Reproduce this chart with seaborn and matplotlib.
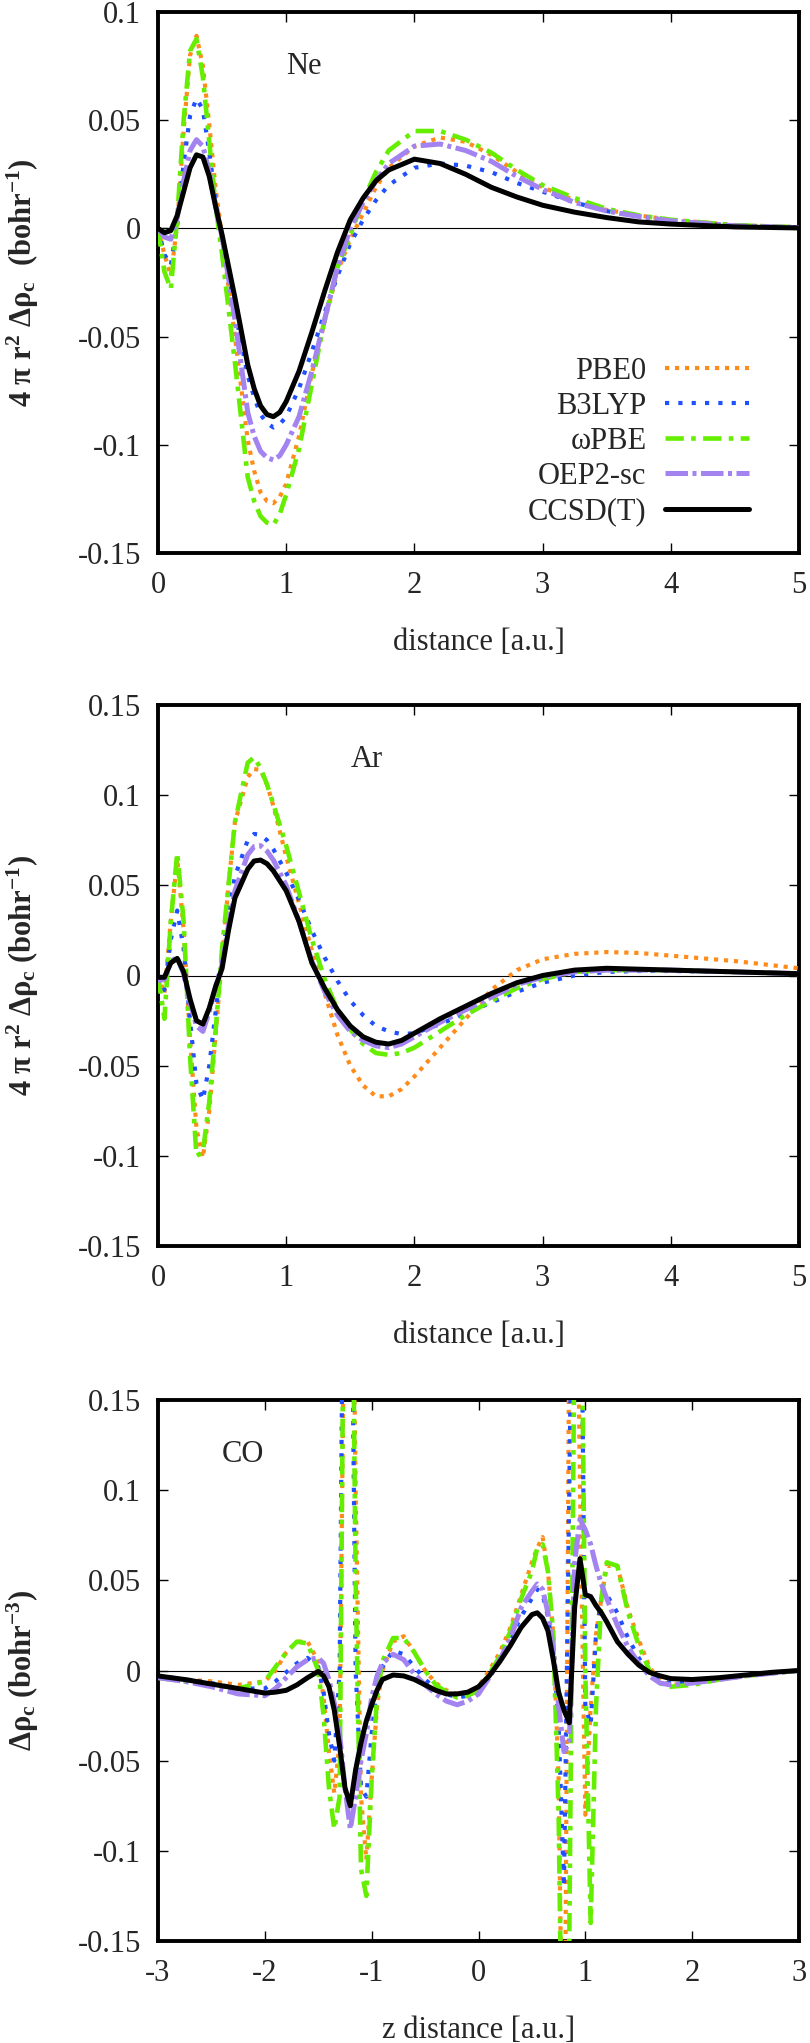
import numpy as np
import pandas as pd
import matplotlib
matplotlib.use("Agg")
import matplotlib.pyplot as plt
import seaborn as sns

# ---- data ----
methods = ["PBE0", "B3LYP", "ωPBE", "OEP2-sc", "CCSD(T)"]

ne_x = [0, 0.05, 0.1, 0.15, 0.2, 0.25, 0.3, 0.35, 0.4, 0.45, 0.5, 0.6, 0.7, 0.75, 0.8, 0.85, 0.9,
        0.95, 1.0, 1.1, 1.2, 1.3, 1.4, 1.5, 1.6, 1.7, 1.8, 2.0, 2.2, 2.4, 2.6, 2.8, 3.0,
        3.25, 3.5, 3.75, 4.0, 4.5, 5.0]
ne_pbe0 = [0, -0.012, -0.022, 0.002, 0.045, 0.080, 0.089, 0.075, 0.048, 0.018,
           -0.004, -0.050, -0.098, -0.112, -0.122, -0.126, -0.127, -0.124, -0.118, -0.096, -0.067, -0.043, -0.020,
           -0.005, 0.007, 0.019, 0.028, 0.038, 0.042, 0.040, 0.034, 0.026, 0.019,
           0.013, 0.0085, 0.006, 0.004, 0.0015, 0.0005]
ne_b3lyp = [0, -0.012, -0.017, 0.002, 0.030, 0.052, 0.060, 0.055, 0.035, 0.013,
            -0.005, -0.038, -0.068, -0.078, -0.086, -0.090, -0.092, -0.0905, -0.087, -0.074, -0.057, -0.039, -0.022,
            -0.007, 0.004, 0.013, 0.020, 0.028, 0.030, 0.029, 0.026, 0.021, 0.017,
            0.012, 0.008, 0.0055, 0.0035, 0.0012, 0.0004]
ne_wpbe = [0, -0.020, -0.028, 0.005, 0.050, 0.082, 0.0875, 0.070, 0.040, 0.010,
           -0.012, -0.062, -0.115, -0.126, -0.133, -0.136, -0.137, -0.132, -0.123, -0.102, -0.072, -0.042, -0.018,
           -0.003, 0.013, 0.026, 0.036, 0.045, 0.045, 0.041, 0.035, 0.027, 0.020,
           0.014, 0.009, 0.006, 0.004, 0.0015, 0.0005]
ne_oep2 = [0, -0.004, -0.005, 0.005, 0.022, 0.036, 0.041, 0.038, 0.026, 0.010,
           -0.004, -0.042, -0.085, -0.096, -0.103, -0.106, -0.107, -0.105, -0.100, -0.087, -0.066, -0.042, -0.018,
           0.000, 0.012, 0.022, 0.030, 0.038, 0.039, 0.036, 0.031, 0.024, 0.018,
           0.012, 0.008, 0.0055, 0.0035, 0.0012, 0.0004]
ne_ccsdt = [0, -0.002, -0.001, 0.006, 0.017, 0.028, 0.034, 0.033, 0.024, 0.010,
            -0.003, -0.032, -0.063, -0.074, -0.082, -0.086, -0.087, -0.085, -0.080, -0.066, -0.048, -0.029, -0.011,
            0.004, 0.014, 0.022, 0.027, 0.032, 0.030, 0.025, 0.019, 0.0145, 0.0107,
            0.0075, 0.005, 0.003, 0.002, 0.0007, 0.0002]

ar_x = [0, 0.05, 0.1, 0.15, 0.2, 0.25, 0.3, 0.35, 0.4, 0.45, 0.5, 0.55, 0.6, 0.7, 0.75, 0.8, 0.85,
        0.9, 1.0, 1.1, 1.2, 1.3, 1.4, 1.5, 1.6, 1.7, 1.8, 1.9, 2.0, 2.2, 2.4, 2.6,
        2.8, 3.0, 3.25, 3.5, 3.75, 4.0, 4.5, 5.0]
ar_pbe0 = [0, -0.010, 0.030, 0.065, 0.025, -0.035, -0.085, -0.101, -0.075, -0.032,
           0.010, 0.050, 0.085, 0.110, 0.1145, 0.114, 0.106, 0.094, 0.066, 0.040, 0.014, -0.010,
           -0.033, -0.050, -0.061, -0.067, -0.067, -0.063, -0.056, -0.040, -0.024, -0.008,
           0.003, 0.009, 0.012, 0.013, 0.0125, 0.011, 0.008, 0.004]
ar_b3lyp = [0, -0.008, 0.020, 0.036, 0.015, -0.025, -0.060, -0.069, -0.050, -0.020,
            0.010, 0.035, 0.055, 0.075, 0.0785, 0.078, 0.075, 0.070, 0.057, 0.042, 0.025, 0.010,
            -0.003, -0.014, -0.022, -0.028, -0.031, -0.0325, -0.032, -0.027, -0.021, -0.015,
            -0.009, -0.004, 0.000, 0.002, 0.0025, 0.0025, 0.002, 0.001]
ar_wpbe = [0, -0.024, 0.030, 0.068, 0.030, -0.045, -0.100, -0.098, -0.070, -0.030,
           0.015, 0.050, 0.085, 0.118, 0.121, 0.115, 0.106, 0.095, 0.072, 0.046, 0.020, -0.002,
           -0.019, -0.030, -0.038, -0.043, -0.044, -0.043, -0.040, -0.031, -0.022, -0.014,
           -0.007, -0.002, 0.002, 0.003, 0.003, 0.003, 0.002, 0.001]
ar_oep2 = [-0.003, -0.002, 0.008, 0.010, 0.001, -0.015, -0.028, -0.031, -0.020, -0.006,
           0.006, 0.028, 0.047, 0.067, 0.0715, 0.072, 0.069, 0.064, 0.050, 0.030, 0.008, -0.009,
           -0.022, -0.031, -0.036, -0.039, -0.040, -0.038, -0.034, -0.026, -0.019, -0.012,
           -0.005, -0.001, 0.002, 0.003, 0.003, 0.003, 0.002, 0.001]
ar_ccsdt = [-0.001, -0.001, 0.007, 0.0095, 0.002, -0.013, -0.025, -0.027, -0.018, -0.006,
            0.004, 0.025, 0.043, 0.059, 0.0635, 0.064, 0.062, 0.058, 0.047, 0.030, 0.007, -0.007,
            -0.019, -0.028, -0.034, -0.037, -0.038, -0.036, -0.032, -0.024, -0.017, -0.010,
            -0.004, 0.000, 0.003, 0.004, 0.0035, 0.003, 0.002, 0.001]

co_x = [-3, -2.75, -2.5, -2.25, -2.0,
        -1.9, -1.8, -1.7, -1.6, -1.5,
        -1.45, -1.4, -1.35, -1.3, -1.25, -1.2, -1.15, -1.1, -1.05, -1.0, -0.95, -0.9,
        -0.8, -0.7, -0.6, -0.5, -0.4, -0.3, -0.2, -0.1, 0.0,
        0.1, 0.2, 0.3, 0.4, 0.5,
        0.55, 0.6, 0.65, 0.7, 0.75, 0.8, 0.85, 0.9, 0.95, 1.0, 1.05, 1.1, 1.15,
        1.2, 1.3, 1.4, 1.5, 1.6, 1.7, 1.8,
        2.0, 2.25, 2.5, 2.75, 3.0]
co_pbe0 = [-0.004, -0.005, -0.006, -0.008, -0.006,
           0.000, 0.010, 0.016, 0.016, 0.005,
           -0.015, -0.045, -0.068, -0.040, 0.25, 0.35, 0.10, -0.070, -0.105, -0.060, -0.020, 0.000,
           0.016, 0.019, 0.010, 0.000, -0.007, -0.011, -0.013, -0.012, -0.009,
           0.000, 0.010, 0.024, 0.042, 0.060,
           0.068, 0.074, 0.055, 0.020, -0.060, -0.30, 0.20, 0.35, 0.10, -0.08, -0.02, 0.02, 0.04,
           0.058, 0.058, 0.034, 0.017, 0.002, -0.006, -0.008,
           -0.007, -0.005, -0.003, -0.0015, 0.0]
co_b3lyp = [-0.003, -0.005, -0.007, -0.010, -0.010,
            -0.006, -0.001, 0.004, 0.007, 0.002,
            -0.012, -0.035, -0.050, 0.000, 0.35, 0.30, 0.00, -0.065, -0.070, -0.035, -0.010, 0.002,
            0.011, 0.009, 0.002, -0.005, -0.010, -0.013, -0.015, -0.014, -0.010,
            -0.003, 0.006, 0.018, 0.030, 0.040,
            0.045, 0.042, 0.030, 0.010, -0.030, -0.12, 0.10, 0.35, 0.30, -0.02, -0.03, 0.02, 0.04,
            0.042, 0.032, 0.018, 0.007, -0.002, -0.006, -0.007,
            -0.006, -0.0045, -0.003, -0.0015, 0.0]
co_wpbe = [-0.004, -0.006, -0.008, -0.010, -0.006,
           0.002, 0.010, 0.016, 0.015, 0.000,
           -0.025, -0.065, -0.088, -0.070, 0.30, 0.35, 0.05, -0.110, -0.125, -0.060, -0.015, 0.005,
           0.018, 0.018, 0.010, 0.000, -0.008, -0.012, -0.015, -0.014, -0.011,
           -0.002, 0.008, 0.022, 0.040, 0.055,
           0.068, 0.070, 0.055, 0.020, -0.080, -0.30, -0.15, 0.20, 0.30, 0.00, -0.14, -0.02, 0.04,
           0.060, 0.058, 0.032, 0.014, 0.000, -0.007, -0.009,
           -0.008, -0.005, -0.003, -0.0015, 0.0]
co_oep2 = [-0.004, -0.006, -0.009, -0.013, -0.014,
           -0.010, -0.004, 0.002, 0.006, 0.007,
           0.004, -0.005, -0.018, -0.035, -0.065, -0.088, -0.070, -0.050, -0.035, -0.015, -0.003, 0.004,
           0.009, 0.006, -0.002, -0.008, -0.013, -0.017, -0.019, -0.017, -0.013,
           -0.004, 0.006, 0.018, 0.035, 0.044,
           0.048, 0.045, 0.032, 0.012, -0.020, -0.045, -0.040, 0.060, 0.084, 0.078, 0.070, 0.058, 0.048,
           0.040, 0.025, 0.013, 0.004, -0.003, -0.007, -0.008,
           -0.007, -0.005, -0.003, -0.0015, 0.0]
co_ccsdt = [-0.003, -0.005, -0.0075, -0.010, -0.0125,
            -0.012, -0.011, -0.008, -0.004, -0.0005,
            -0.003, -0.009, -0.022, -0.042, -0.065, -0.075, -0.055, -0.040, -0.028, -0.019, -0.011, -0.005,
            -0.0025, -0.003, -0.005, -0.008, -0.011, -0.013, -0.013, -0.012, -0.009,
            -0.003, 0.005, 0.014, 0.024, 0.031,
            0.032, 0.029, 0.022, 0.006, -0.012, -0.022, -0.029, 0.035, 0.062, 0.042, 0.041, 0.036, 0.032,
            0.027, 0.016, 0.009, 0.003, -0.001, -0.003, -0.0045,
            -0.005, -0.004, -0.0025, -0.001, 0.0]

# ---- styling ----
sns.set_theme(style="ticks")
plt.rcParams["font.family"] = ["Liberation Serif", "DejaVu Serif"]
plt.rcParams["mathtext.fontset"] = "custom"
plt.rcParams["mathtext.rm"] = "Liberation Serif"
plt.rcParams["mathtext.it"] = "Liberation Serif:italic"
plt.rcParams["mathtext.bf"] = "Liberation Serif:bold"
plt.rcParams["axes.unicode_minus"] = False

colors = ["#ff8c1a", "#1f4fff", "#66ee00", "#a283f0", "black"]
widths = [3.0, 3.0, 3.3, 3.6, 3.6]
dashes = [(0, (1.0, 1.4)), (0, (1.0, 2.2)), (0, (4.0, 1.6, 1.0, 1.6)),
          (0, (4.5, 0.9, 0.8, 0.9)), "-"]

fs = 22
fig = plt.figure(figsize=(8.1, 20.43), dpi=100)
left, width, height = 158 / 810, 641 / 810, 541 / 2043
bottoms = [1 - 553 / 2043, 1 - 1246 / 2043, 1 - 1941 / 2043]

panels = [
    (ne_x, [ne_pbe0, ne_b3lyp, ne_wpbe, ne_oep2, ne_ccsdt], (0, 5), (-0.15, 0.1),
     "Ne", (1.0, 0.075), "distance [a.u.]",
     r"4 π r$^\mathbf{2}$ Δρ$_\mathbf{c}$  (bohr$^\mathbf{-1}$)"),
    (ar_x, [ar_pbe0, ar_b3lyp, ar_wpbe, ar_oep2, ar_ccsdt], (0, 5), (-0.15, 0.15),
     "Ar", (1.5, 0.12), "distance [a.u.]",
     r"4 π r$^\mathbf{2}$ Δρ$_\mathbf{c}$ (bohr$^\mathbf{-1}$)"),
    (co_x, [co_pbe0, co_b3lyp, co_wpbe, co_oep2, co_ccsdt], (-3, 3), (-0.15, 0.15),
     "CO", (-2.4, 0.12), "z distance [a.u.]", r"Δρ$_\mathbf{c}$ (bohr$^\mathbf{-3}$)"),
]

for i, (xs, series, xlim, ylim, name, pos, xlab, ylab) in enumerate(panels):
    ax = fig.add_axes([left, bottoms[i], width, height])
    ax.axhline(0, color="black", lw=0.8, zorder=1)
    for m, ys, c, lw, ls in zip(methods, series, colors, widths, dashes):
        df = pd.DataFrame({"x": xs, "y": ys})
        sns.lineplot(data=df, x="x", y="y", ax=ax, color=c, lw=lw, linestyle=ls,
                     label=m if i == 0 else None, sort=False, zorder=3)
    ax.set_xlim(*xlim)
    ax.set_ylim(*ylim)
    ax.set_xticks(np.arange(xlim[0], xlim[1] + 1, 1))
    ax.set_yticks(np.arange(ylim[0], ylim[1] + 0.001, 0.05))
    ax.xaxis.set_major_formatter(matplotlib.ticker.FuncFormatter(lambda v, p: "%g" % round(v, 3)))
    ax.yaxis.set_major_formatter(matplotlib.ticker.FuncFormatter(lambda v, p: "%g" % round(v, 3)))
    ax.tick_params(direction="in", top=True, right=True, length=7, width=1,
                   labelsize=fs, color="black")
    ax.tick_params(axis="x", pad=13)
    ax.tick_params(axis="y", pad=12)
    for sp in ax.spines.values():
        sp.set_linewidth(2.8)
        sp.set_color("black")
    ax.set_xlabel(xlab, fontsize=fs, labelpad=20)
    ax.set_ylabel(ylab, fontsize=fs, fontweight="bold")
    ax.yaxis.set_label_coords(-0.183, 0.5)
    ax.text(pos[0], pos[1], name, fontsize=fs, va="center", ha="left")
    if i == 0:
        ax.legend(loc="lower right", bbox_to_anchor=(0.955, 0.01), frameon=False,
                  fontsize=fs, markerfirst=False, handlelength=2.75, handletextpad=0.6,
                  labelspacing=0.2, borderpad=0.2)
    elif ax.get_legend() is not None:
        ax.get_legend().remove()

fig.savefig("out.png", dpi=100)
